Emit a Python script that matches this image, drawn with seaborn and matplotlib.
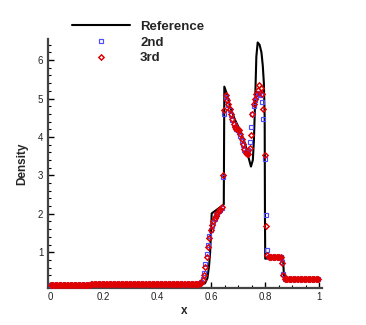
import numpy as np
import pandas as pd
import matplotlib
matplotlib.use("Agg")
import matplotlib.pyplot as plt
import seaborn as sns
from matplotlib.ticker import MultipleLocator, FuncFormatter

# Reference (exact) solution
ref_x = [0.0, 0.30, 0.55, 0.565, 0.576, 0.585, 0.591, 0.595, 0.599, 0.601,
         0.644, 0.646, 0.648, 0.657, 0.669, 0.688, 0.706, 0.725, 0.737, 0.747,
         0.754, 0.758, 0.763, 0.767, 0.772, 0.779, 0.786, 0.791, 0.795, 0.798,
         0.799, 0.800, 0.865, 0.866, 0.870, 1.0]
ref_y = [0.15, 0.16, 0.17, 0.17, 0.19, 0.32, 0.63, 0.97, 1.58, 2.01,
         2.23, 2.25, 5.31, 5.13, 4.79, 4.44, 4.18, 3.83, 3.49, 3.23,
         3.40, 3.92, 5.05, 6.09, 6.46, 6.40, 6.20, 5.85, 5.40, 4.50,
         2.00, 0.83, 0.90, 0.90, 0.32, 0.31]

# cell centres of the 200-cell grid
n_cells = 200
x_cells = np.round(0.0025 + 0.005 * np.arange(n_cells), 4)

rho_2nd = [
    0.15, 0.15, 0.15, 0.15, 0.15, 0.15, 0.15, 0.15, 0.15, 0.15,
    0.15, 0.15, 0.15, 0.15, 0.15, 0.15, 0.15, 0.15, 0.15, 0.15,
    0.15, 0.15, 0.15, 0.15, 0.15, 0.15, 0.15, 0.15, 0.15, 0.15,
    0.16, 0.16, 0.16, 0.16, 0.16, 0.16, 0.16, 0.16, 0.16, 0.16,
    0.16, 0.16, 0.16, 0.16, 0.16, 0.16, 0.16, 0.16, 0.16, 0.16,
    0.16, 0.16, 0.16, 0.16, 0.16, 0.16, 0.16, 0.16, 0.16, 0.16,
    0.16, 0.16, 0.16, 0.16, 0.16, 0.16, 0.16, 0.16, 0.16, 0.16,
    0.17, 0.17, 0.17, 0.17, 0.17, 0.17, 0.17, 0.17, 0.17, 0.17,
    0.17, 0.17, 0.17, 0.17, 0.17, 0.17, 0.17, 0.17, 0.17, 0.17,
    0.17, 0.17, 0.17, 0.17, 0.17, 0.17, 0.17, 0.17, 0.17, 0.17,
    0.18, 0.18, 0.18, 0.18, 0.18, 0.18, 0.18, 0.18, 0.18, 0.18,
    0.18,
    0.19, 0.22, 0.30, 0.45, 0.70, 0.96, 1.20, 1.41, 1.57, 1.68,
    1.78, 1.86, 1.93, 2.00, 2.06, 2.11, 2.15, 2.95, 4.60, 5.05,
    4.95, 4.84, 4.70, 4.57, 4.45, 4.33, 4.25, 4.20, 4.18, 4.13,
    4.03, 3.90, 3.78, 3.66, 3.60, 3.60, 3.65, 3.88, 4.27, 4.61,
    4.80, 4.95, 5.05, 5.12, 5.15, 5.10, 4.92, 4.48, 3.42, 1.97,
    1.07,
    0.88, 0.88, 0.88, 0.88, 0.88, 0.88, 0.88, 0.88, 0.88, 0.88,
    0.75, 0.43,
    0.31, 0.31, 0.31, 0.31, 0.31, 0.31, 0.31, 0.31, 0.31, 0.31,
    0.31, 0.31, 0.31, 0.31, 0.31, 0.31, 0.31, 0.31, 0.31, 0.31,
    0.31, 0.31, 0.31, 0.31, 0.31, 0.31,
]

rho_3rd = [
    0.15, 0.15, 0.15, 0.15, 0.15, 0.15, 0.15, 0.15, 0.15, 0.15,
    0.15, 0.15, 0.15, 0.15, 0.15, 0.15, 0.15, 0.15, 0.15, 0.15,
    0.15, 0.15, 0.15, 0.15, 0.15, 0.15, 0.15, 0.15, 0.15, 0.15,
    0.16, 0.16, 0.16, 0.16, 0.16, 0.16, 0.16, 0.16, 0.16, 0.16,
    0.16, 0.16, 0.16, 0.16, 0.16, 0.16, 0.16, 0.16, 0.16, 0.16,
    0.16, 0.16, 0.16, 0.16, 0.16, 0.16, 0.16, 0.16, 0.16, 0.16,
    0.16, 0.16, 0.16, 0.16, 0.16, 0.16, 0.16, 0.16, 0.16, 0.16,
    0.17, 0.17, 0.17, 0.17, 0.17, 0.17, 0.17, 0.17, 0.17, 0.17,
    0.17, 0.17, 0.17, 0.17, 0.17, 0.17, 0.17, 0.17, 0.17, 0.17,
    0.17, 0.17, 0.17, 0.17, 0.17, 0.17, 0.17, 0.17, 0.17, 0.17,
    0.18, 0.18, 0.18, 0.18, 0.18, 0.18, 0.18, 0.18, 0.18, 0.18,
    0.18,
    0.19, 0.21, 0.27, 0.40, 0.62, 0.88, 1.13, 1.37, 1.57, 1.70,
    1.80, 1.88, 1.95, 2.02, 2.08, 2.13, 2.17, 3.02, 4.70, 5.08,
    4.97, 4.87, 4.74, 4.60, 4.48, 4.35, 4.27, 4.22, 4.22, 4.18,
    4.08, 3.95, 3.82, 3.68, 3.58, 3.55, 3.56, 3.70, 4.05, 4.60,
    4.85, 5.00, 5.12, 5.22, 5.35, 5.28, 5.12, 4.74, 3.53, 1.68,
    0.93,
    0.87, 0.87, 0.87, 0.87, 0.87, 0.87, 0.87, 0.87, 0.87, 0.87,
    0.73, 0.42,
    0.31, 0.31, 0.31, 0.31, 0.31, 0.31, 0.31, 0.31, 0.31, 0.31,
    0.31, 0.31, 0.31, 0.31, 0.31, 0.31, 0.31, 0.31, 0.31, 0.31,
    0.31, 0.31, 0.31, 0.31, 0.31, 0.31,
]

series_labels = ["Reference", "2nd", "3rd"]

sns.set_theme(style="white")
plt.rcParams["font.family"] = ["Liberation Sans", "DejaVu Sans"]

fig = plt.figure(figsize=(3.66, 3.25), dpi=100)
ax = fig.add_axes([0.130, 0.114, 0.749, 0.766])

sns.lineplot(x=ref_x, y=ref_y, color="black", linewidth=1.5, sort=False,
             estimator=None, label=series_labels[0], ax=ax, zorder=2)
sns.lineplot(x=x_cells, y=rho_2nd, linestyle="", marker="s", markersize=2.5,
             markerfacecolor="none", markeredgecolor="#4d4dff", markeredgewidth=0.85,
             sort=False, estimator=None, label=series_labels[1], ax=ax, zorder=3)
sns.lineplot(x=x_cells, y=rho_3rd, linestyle="", marker="D", markersize=2.7,
             markerfacecolor="none", markeredgecolor="#e00000", markeredgewidth=1.05,
             sort=False, estimator=None, label=series_labels[2], ax=ax, zorder=4)

ax.set_xlim(-0.009, 1.01)
ax.set_ylim(0.07, 6.55)

ax.xaxis.set_major_locator(MultipleLocator(0.2))
ax.xaxis.set_minor_locator(MultipleLocator(0.05))
ax.yaxis.set_major_locator(MultipleLocator(1))
ax.yaxis.set_minor_locator(MultipleLocator(0.2))
ax.xaxis.set_major_formatter(FuncFormatter(lambda v, _: f"{v:g}"))
ax.yaxis.set_major_formatter(FuncFormatter(lambda v, _: f"{v:g}"))

ax.tick_params(which="both", direction="in", colors="black", labelcolor="#222222",
               labelsize=7, pad=3, top=False, right=False, bottom=True, left=True)
ax.tick_params(which="major", length=4.5, width=1.0)
ax.tick_params(which="minor", length=2.2, width=0.8)

for side in ["top", "right"]:
    ax.spines[side].set_visible(False)
for side in ["left", "bottom"]:
    ax.spines[side].set_linewidth(1.6)
    ax.spines[side].set_color("#444444")

ax.set_xlabel("x", fontweight="bold", fontsize=8.5, labelpad=2)
ax.set_ylabel("Density", fontweight="bold", fontsize=8.5, labelpad=7)

ax.legend(loc="upper left", bbox_to_anchor=(0.197, 0.937), bbox_transform=fig.transFigure,
          frameon=False, prop={"weight": "bold", "size": 9.5}, handlelength=4.4,
          handletextpad=0.75, labelspacing=0.27, borderpad=0, borderaxespad=0)

fig.savefig("out.png", dpi=100)
